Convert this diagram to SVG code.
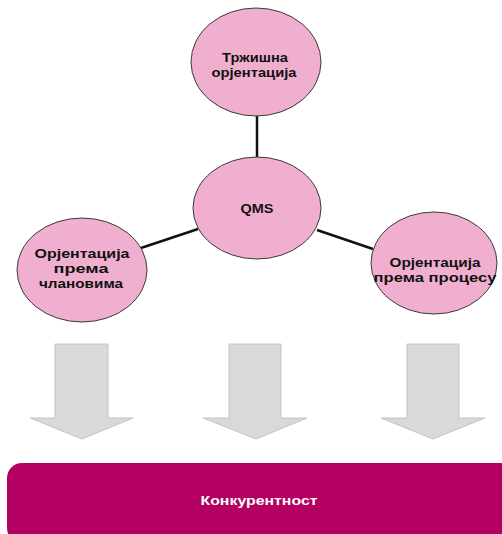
<svg xmlns="http://www.w3.org/2000/svg" width="502" height="534" viewBox="0 0 502 534">
  <style>
    .node { fill: #f1afcf; stroke: #3a3a3a; stroke-width: 1; }
    .lbl { font-family: "Liberation Sans", Arial, sans-serif; font-weight: bold; font-size: 13px; fill: #111; text-anchor: middle; }
    .link { stroke: #111; stroke-width: 2.5; fill: none; }
    .arrow { fill: #d9d9db; stroke: #c4c4c6; stroke-width: 1; }
    .bar-text { font-family: "Liberation Sans", Arial, sans-serif; font-weight: bold; font-size: 13px; fill: #ffffff; text-anchor: middle; }
  </style>
  <rect width="502" height="534" fill="#ffffff"/>

  <!-- connectors between the QMS hub and its three orientations -->
  <g id="connectors">
    <line class="link" x1="257" y1="115" x2="257" y2="158"/>
    <line class="link" x1="141" y1="248" x2="198" y2="229"/>
    <line class="link" x1="317" y1="230" x2="373" y2="249"/>
  </g>

  <g id="node-market">
    <ellipse class="node" cx="256" cy="62" rx="65" ry="54"/>
    <text class="lbl" x="255" y="62" textLength="66" lengthAdjust="spacingAndGlyphs">Тржишна</text>
    <text class="lbl" x="254" y="77" textLength="85" lengthAdjust="spacingAndGlyphs">орјентација</text>
  </g>

  <g id="node-qms">
    <ellipse class="node" cx="257" cy="208" rx="64" ry="51"/>
    <text class="lbl" x="257" y="213" textLength="33" lengthAdjust="spacingAndGlyphs">QMS</text>
  </g>

  <g id="node-members">
    <ellipse class="node" cx="82" cy="270" rx="65" ry="52"/>
    <text class="lbl" x="82" y="258" textLength="95" lengthAdjust="spacingAndGlyphs">Орјентација</text>
    <text class="lbl" x="81" y="273" textLength="55" lengthAdjust="spacingAndGlyphs">према</text>
    <text class="lbl" x="81" y="288" textLength="84" lengthAdjust="spacingAndGlyphs">члановима</text>
  </g>

  <g id="node-process">
    <ellipse class="node" cx="434" cy="263" rx="63" ry="51"/>
    <text class="lbl" x="435" y="267" textLength="91" lengthAdjust="spacingAndGlyphs">Орјентација</text>
    <text class="lbl" x="435" y="282" textLength="123" lengthAdjust="spacingAndGlyphs">према процесу</text>
  </g>

  <!-- block arrows pointing down to the bar -->
  <g id="arrow-left">
    <polygon class="arrow" points="55,344 108,344 108,418 133,418 82,439 30,418 55,418"/>
  </g>
  <g id="arrow-middle">
    <polygon class="arrow" points="229,344 281,344 281,418 307,418 256,439 203,418 229,418"/>
  </g>
  <g id="arrow-right">
    <polygon class="arrow" points="407,344 459,344 459,418 485,418 433,439 381,418 407,418"/>
  </g>

  <g id="node-competitiveness">
    <rect x="7" y="463" width="510" height="80" rx="15" ry="15" fill="#b30062"/>
    <text class="bar-text" x="259" y="505" textLength="117" lengthAdjust="spacingAndGlyphs">Конкурентност</text>
  </g>
</svg>
